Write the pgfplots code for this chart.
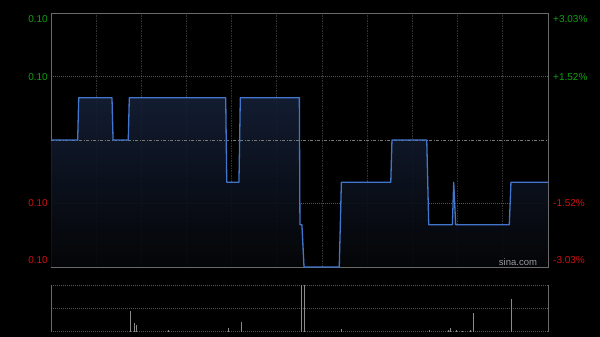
\documentclass[border=0pt]{standalone}
\usepackage{pgfplots}
\pgfplotsset{compat=1.18}
\usepackage{fontspec}
\setmainfont{Liberation Sans}
\definecolor{upg}{HTML}{10A010}
\definecolor{dnr}{HTML}{D01010}
\definecolor{lineb}{HTML}{4276CC}
\definecolor{fillt}{HTML}{141F36}
\definecolor{fillb}{HTML}{050608}
\definecolor{framec}{HTML}{6A6A6A}
\definecolor{gridc}{HTML}{333333}
\definecolor{hgrid}{HTML}{555555}
\definecolor{volc}{HTML}{8A8A8A}
\begin{document}
\begin{tikzpicture}
\fill[black] (0pt,0pt) rectangle (600pt,337pt);
\useasboundingbox (0pt,0pt) rectangle (600pt,337pt);
\begin{axis}[
  at={(51pt,70pt)}, anchor=south west,
  width=497pt, height=254pt, scale only axis,
  xmin=0, xmax=330, ymin=0.096, ymax=0.102,
  xtick={30,60,...,300}, ytick={0.0975,0.1005},
  xticklabels={}, yticklabels={},
  major tick length=0pt,
  xmajorgrids, ymajorgrids,
  x grid style={gridc, dash pattern=on 1.5pt off 1pt, line width=0.9pt},
  y grid style={hgrid, dash pattern=on 1pt off 1pt, line width=0.6pt},
  axis line style={framec, line width=0.8pt},
  clip=false,
]
\addplot[draw=none, top color=fillt, bottom color=fillb, fill opacity=0.9] coordinates {
(0,0.096) (0,0.099) (17.7,0.099) (18.4,0.100) (40.5,0.100) (41.2,0.099) (51.3,0.099) (52,0.100)
(116,0.100) (116.7,0.098) (124.8,0.098) (125.7,0.100) (164.9,0.100) (165.3,0.097) (166.6,0.097)
(168,0.096) (191.4,0.096) (192.8,0.098) (225.6,0.098) (226.4,0.099) (249.5,0.099) (250.8,0.097)
(266.5,0.097) (267.4,0.098) (268.7,0.097) (304.3,0.097) (305.4,0.098) (330,0.098) (330,0.096)
} -- cycle;
\addplot[color=hgrid!80!white, line width=0.7pt, dash pattern=on 3pt off 1.5pt on 1pt off 1.5pt] coordinates {(0,0.099) (330,0.099)};
\addplot[color=lineb, line width=1.3pt, line join=round] coordinates {
(0,0.099) (17.7,0.099) (18.4,0.100) (40.5,0.100) (41.2,0.099) (51.3,0.099) (52,0.100)
(116,0.100) (116.7,0.098) (124.8,0.098) (125.7,0.100) (164.9,0.100) (165.3,0.097) (166.6,0.097)
(168,0.096) (191.4,0.096) (192.8,0.098) (225.6,0.098) (226.4,0.099) (249.5,0.099) (250.8,0.097)
(266.5,0.097) (267.4,0.098) (268.7,0.097) (304.3,0.097) (305.4,0.098) (330,0.098)
};
\end{axis}
\begin{axis}[
  at={(51pt,5.3pt)}, anchor=south west,
  width=497pt, height=46.7pt, scale only axis,
  xmin=0, xmax=330, ymin=0, ymax=46.7,
  xtick=\empty, ytick={23.35}, yticklabels={},
  major tick length=0pt,
  ymajorgrids,
  y grid style={hgrid, dash pattern=on 1pt off 1pt, line width=0.6pt},
  separate axis lines,
  x axis line style={hgrid, dash pattern=on 1pt off 1pt, line width=0.6pt},
  y axis line style={framec, line width=0.8pt},
  clip=true,
]
\addplot[ycomb, color=volc, line width=0.8pt] coordinates {
(52.7,20.7) (55.3,8.7) (56.6,6.7) (77.9,1.7) (117.7,3.4) (126.4,9.7)
(166.5,46.7) (168,46.7) (192.8,2.7) (251,1.7) (263.8,1.5) (265,3.4)
(269,1.7) (273.1,1) (278.2,1.5) (280.7,18.4) (305.7,32.4)
};
\end{axis}
\begin{scope}[every node/.style={font=\fontsize{10}{12}\selectfont, inner sep=0pt}]
\node[anchor=east, text=upg] at (48pt,318pt) {0.10};
\node[anchor=east, text=upg] at (48pt,260.3pt) {0.10};
\node[anchor=east, text=dnr] at (48pt,134.3pt) {0.10};
\node[anchor=east, text=dnr] at (48pt,77pt) {0.10};
\node[anchor=west, text=upg] at (553pt,318pt) {+3.03\%};
\node[anchor=west, text=upg] at (553pt,260.3pt) {+1.52\%};
\node[anchor=west, text=dnr] at (553pt,134.3pt) {-1.52\%};
\node[anchor=west, text=dnr] at (553pt,77pt) {-3.03\%};
\node[text=gray!80!white, font=\fontsize{9.5}{11}\selectfont] at (518pt,75.3pt) {sina.com};
\end{scope}
\end{tikzpicture}
\end{document}
